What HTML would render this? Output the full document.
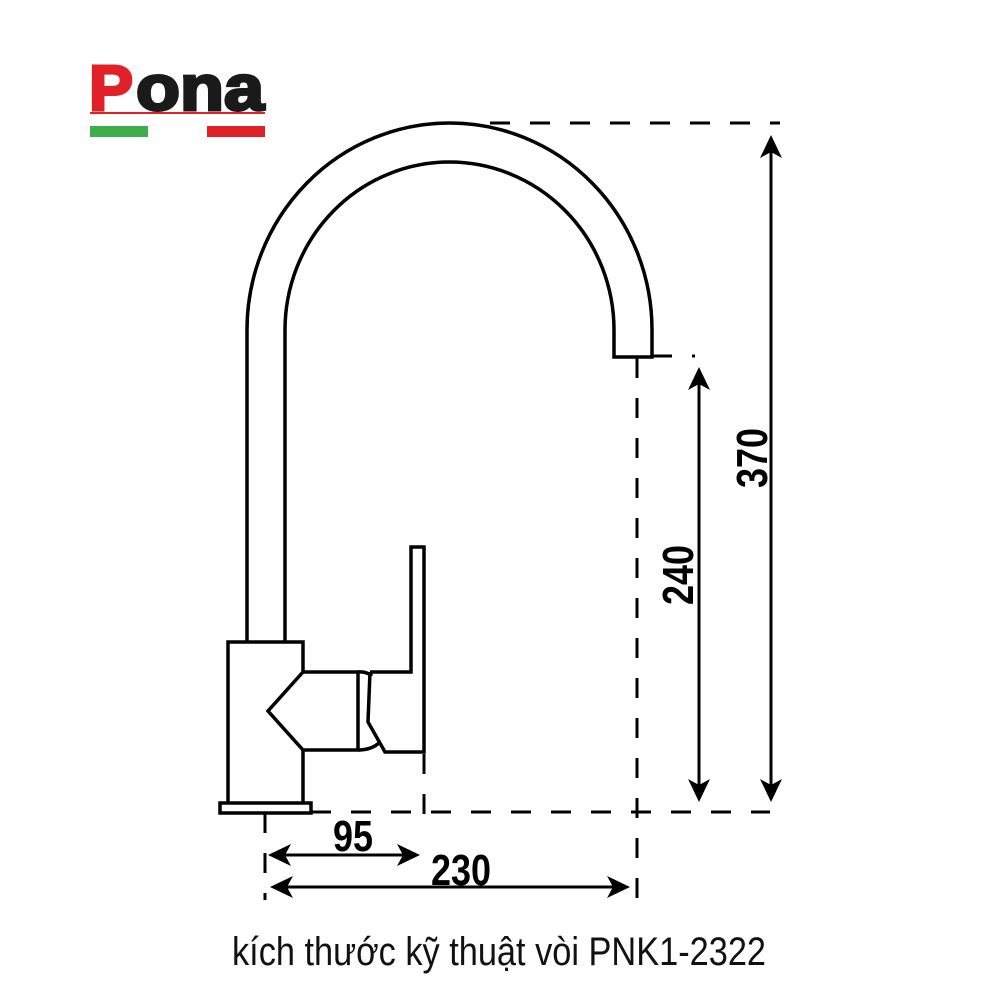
<!DOCTYPE html>
<html><head><meta charset="utf-8"><style>html,body{margin:0;padding:0;background:#fff}svg{display:block}</style></head>
<body>
<svg width="1000" height="1000" viewBox="0 0 1000 1000" xmlns="http://www.w3.org/2000/svg">
<!-- logo -->
<text x="89" y="110" font-family="Liberation Sans, sans-serif" font-weight="bold" font-size="64" fill="#e02127" stroke="#e02127" stroke-width="3" textLength="44" lengthAdjust="spacingAndGlyphs">P</text>
<text x="136" y="110" font-family="Liberation Sans, sans-serif" font-weight="bold" font-size="64" fill="#1a1a1a" stroke="#1a1a1a" stroke-width="3" textLength="128" lengthAdjust="spacingAndGlyphs">ona</text>
<rect x="90" y="112" width="175" height="2" fill="#e02127"/>
<rect x="90" y="126" width="58" height="11" fill="#3dae49"/>
<rect x="207" y="126" width="58" height="11" fill="#e02127"/>

<g fill="none" stroke="#000" stroke-width="3.5">
<path d="M247,642 L247,330 A202.5,207 0 0 1 652,330 L652,357 L614,357 L614,330 A164.5,168 0 0 0 285,330 L285,642"/>
<path d="M228,803 L228,642 L303,642 L303,672 M303,750 L303,803"/>
<rect x="220" y="803" width="91" height="10"/>
<path d="M303,672 L358,672 L358,750 L303,750 L268,711 Z"/>
<path d="M358,672 Q366,671 372,676 M358,750 Q372,750 380,742"/>
<path d="M370,672 L368,722 L385,752 L424,752 L424,547 L411,547 L411,672 L370,672"/>
</g>
<g fill="none" stroke="#000" stroke-width="3" stroke-dasharray="20,20">
<line x1="490" y1="123" x2="780" y2="123"/>
<line x1="652" y1="356" x2="695" y2="356"/>
<line x1="637" y1="358" x2="637" y2="900"/>
<line x1="311" y1="812" x2="770" y2="812"/>
<line x1="265" y1="813" x2="265" y2="900"/>
<line x1="424" y1="754" x2="424" y2="820"/>
</g>
<g stroke="#000" stroke-width="3">
<line x1="771" y1="145" x2="771" y2="792"/>
<line x1="699" y1="378" x2="699" y2="792"/>
<line x1="280" y1="855" x2="410" y2="855"/>
<line x1="280" y1="887" x2="620" y2="887"/>
</g>
<g fill="#000">
<path d="M771,135 L760,158 L771,152 L782,158 Z"/>
<path d="M771,802 L760,779 L771,785 L782,779 Z"/>
<path d="M699,367 L688,390 L699,384 L710,390 Z"/>
<path d="M699,802 L688,779 L699,785 L710,779 Z"/>
<path d="M268,855 L291,844 L285,855 L291,866 Z"/>
<path d="M420,855 L397,844 L403,855 L397,866 Z"/>
<path d="M270,887 L293,876 L287,887 L293,898 Z"/>
<path d="M630,887 L607,876 L613,887 L607,898 Z"/>
</g>
<g font-family="Liberation Sans, sans-serif" font-weight="bold" font-size="44" fill="#000">
<text x="333" y="851" textLength="40" lengthAdjust="spacingAndGlyphs">95</text>
<text x="431" y="885" textLength="60" lengthAdjust="spacingAndGlyphs">230</text>
<text transform="translate(767,488) rotate(-90)" textLength="60" lengthAdjust="spacingAndGlyphs">370</text>
<text transform="translate(693,605) rotate(-90)" textLength="60" lengthAdjust="spacingAndGlyphs">240</text>
</g>
<text x="232" y="965" font-family="Liberation Sans, sans-serif" font-size="40" fill="#111" textLength="534" lengthAdjust="spacingAndGlyphs">kích thước kỹ thuật vòi PNK1-2322</text>
</svg>
</body></html>
